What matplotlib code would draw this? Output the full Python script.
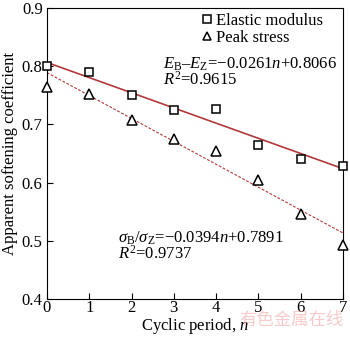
import matplotlib
matplotlib.use("Agg")
import matplotlib.pyplot as plt
import numpy as np

plt.rcParams['font.family'] = ['Liberation Serif', 'DejaVu Serif']
plt.rcParams['mathtext.fontset'] = 'custom'
plt.rcParams['mathtext.rm'] = 'Liberation Serif'
plt.rcParams['mathtext.it'] = 'Liberation Serif:italic'

cycles = [0, 1, 2, 3, 4, 5, 6, 7]
elastic = [0.800, 0.790, 0.750, 0.725, 0.727, 0.665, 0.640, 0.628]
peak = [0.765, 0.752, 0.707, 0.675, 0.655, 0.604, 0.546, 0.492]
fit_e = (-0.0261, 0.8066)
fit_p = (-0.0394, 0.7891)

fig = plt.figure(figsize=(3.5, 3.37), dpi=100)
ax = fig.add_axes([0.134, 0.113, 0.846, 0.863])

xx = np.array([0, 7])
ax.plot(xx, fit_e[0]*xx + fit_e[1], color='#b2383a', lw=1.2, zorder=2)
ax.plot(xx, fit_p[0]*xx + fit_p[1], color='#b2383a', lw=0.8, ls=(0, (2.5, 1.5)), zorder=2)

ax.plot(cycles, elastic, ls='none', marker='s', ms=6, mfc='white', mec='black', mew=1.1,
        label='Elastic modulus', clip_on=False, zorder=3)
ax.plot(cycles, peak, ls='none', marker='^', ms=7.5, mfc='white', mec='black', mew=1.1,
        label='Peak stress', clip_on=False, zorder=3)

ax.set_xlim(0, 7)
ax.set_ylim(0.4, 0.9)
ax.set_xticks(range(8))
ax.set_yticks([0.4, 0.5, 0.6, 0.7, 0.8, 0.9])
ax.set_yticklabels(['0.4', '0.5', '0.6', '0.7', '0.8', '0.9'])
ax.tick_params(direction='in', labelsize=12, length=4, width=0.8, colors='black')
ax.tick_params(axis='x', pad=1)
ax.tick_params(axis='y', pad=3)
for s in ax.spines.values():
    s.set_linewidth(0.8)

ax.set_xlabel('Cyclic period, $\\it{n}$', fontsize=12, labelpad=0)
ax.set_ylabel('Apparent softening coefficient', fontsize=12, labelpad=3)

leg = ax.legend(loc='upper right', frameon=False, fontsize=12, handlelength=0.5,
                handletextpad=0.3, borderaxespad=0.0, labelspacing=0.05,
                bbox_to_anchor=(0.955, 1.005), markerscale=0.85)

fs = 12
ax.text(2.74, 0.804, '$E_{\\mathrm{B}}$\u2013$E_{\\mathrm{Z}}$=\u22120.0261$n$+0.8066', fontsize=fs, va='center')
ax.text(2.74, 0.776, '$R^2$=0.9615', fontsize=fs, va='center')
ax.text(1.68, 0.505, '$\\sigma_{\\mathrm{B}}/\\sigma_{\\mathrm{Z}}$=\u22120.0394$n$+0.7891', fontsize=fs, va='center')
ax.text(1.68, 0.477, '$R^2$=0.9737', fontsize=fs, va='center')

fig.text(0.982, 0.05, '有色金属在线', fontsize=12.5, color='#f2a0a0', alpha=0.55,
         ha='right', va='center', family=['Noto Sans CJK SC', 'DejaVu Sans'], zorder=0)

fig.savefig('out.png', dpi=100)
